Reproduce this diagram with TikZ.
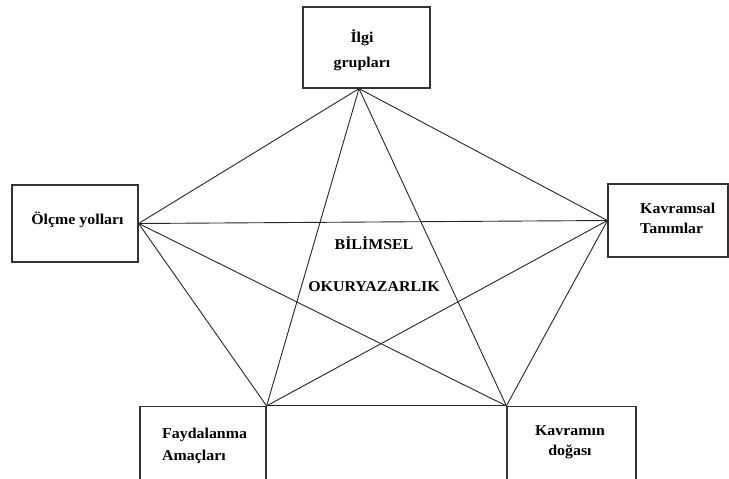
\documentclass[tikz,border=0pt]{standalone}
\usepackage{fontspec}
\setmainfont{Liberation Serif}[FakeStretch=1.06]
\usepackage{tikz}

\begin{document}
\begin{tikzpicture}[x=1pt,y=-1pt,
    box/.style={draw=black!80, line width=1.2pt, rectangle, inner sep=0pt},
    lbl/.style={font=\bfseries\fontsize{15}{20}\selectfont, inner sep=0pt},
    link/.style={draw=black!85, line width=0.9pt}]

        \useasboundingbox (0,0) rectangle (729,479);
        \clip (0,0) rectangle (729,479);
        \fill[white] (0,0) rectangle (729,479);

        % boxes
        \begin{scope}[every node/.style={box}]
          \node[minimum width=127pt, minimum height=81pt]  (ilgi)   at (366.5,47.5)  {};
          \node[minimum width=126pt, minimum height=77pt]  (olcme)  at (75,223.5)    {};
          \node[minimum width=120pt, minimum height=73pt]  (tanim)  at (668,220.5)   {};
          \node[minimum width=126pt, minimum height=100pt] (fayda)  at (203,456.5)   {};
          \node[minimum width=129pt, minimum height=100pt] (doga)   at (571.5,456.5) {};
        \end{scope}

        % texts
        \begin{scope}[every node/.style={lbl}]
          \node[align=center, font=\bfseries\fontsize{15}{25}\selectfont] (tIlgi) at (362,50) {İlgi\\grupları};
          \node (tOlcme) at (77.5,220) {Ölçme yolları};
          \node[align=left, anchor=west] (tTanim) at (640,218) {Kavramsal\\Tanımlar};
          \node[align=left, anchor=west, font=\bfseries\fontsize{15}{22}\selectfont] (tFayda) at (162,446) {Faydalanma\\Amaçları};
          \node[align=center] (tDoga) at (570,442) {Kavramın\\doğası};
          \node[align=center, font=\bfseries\fontsize{15}{42}\selectfont] (tBil) at (374,264) {BİLİMSEL\\OKURYAZARLIK};
        \end{scope}

        % corners of the star
        \coordinate (vI) at ([xshift=-7.5pt]ilgi.south);
        \coordinate (vO) at (olcme.east);
        \coordinate (vT) at (tanim.west);
        \coordinate (vF) at (fayda.north east);
        \coordinate (vD) at (doga.north west);

        \begin{scope}[every path/.style={link}]
          \draw (vI) -- (vO);
          \draw (vI) -- (vT);
          \draw (vI) -- (vF);
          \draw (vI) -- (vD);
          \draw (vO) -- (vT);
          \draw (vO) -- (vF);
          \draw (vO) -- (vD);
          \draw (vT) -- (vF);
          \draw (vT) -- (vD);
          \draw (vF) -- (vD);
        \end{scope}

      \end{tikzpicture}
\end{document}
